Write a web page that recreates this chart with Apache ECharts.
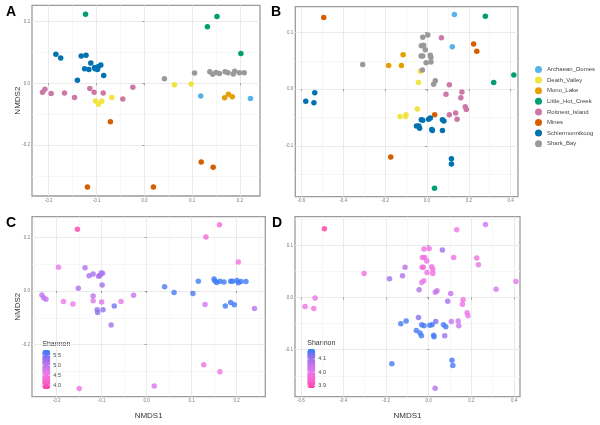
<!DOCTYPE html>
<html><head><meta charset="utf-8">
<script src="https://cdn.jsdelivr.net/npm/echarts@6.0.0/dist/echarts.min.js"></script>
<style>html,body{margin:0;padding:0;background:#fff}#c{width:600px;height:425px}</style>
</head><body><div id="c"></div>
<script>
// ---------- DATA ----------
const groups = ['Archaean_Domes','Death_Valley','Mono_Lake','Little_Hot_Creek','Rottnest_Island','Mines','Schiermonnikoog','Shark_Bay'];
const groupColors = ['#56B4E9','#F0E442','#E69F00','#009E73','#CC79A7','#D55E00','#0072B2','#999999'];

// Panel A (NMDS1, NMDS2) by group
const A_Archaean_Domes = [[0.118,-0.041],[0.222,-0.049]];
const A_Death_Valley = [[-0.102,-0.057],[-0.096,-0.068],[-0.089,-0.058],[-0.068,-0.046],[0.063,-0.005],[0.098,-0.002]];
const A_Mono_Lake = [[0.168,-0.047],[0.176,-0.035],[0.184,-0.043]];
const A_Little_Hot_Creek = [[-0.123,0.223],[0.152,0.216],[0.132,0.183],[0.202,0.096]];
const A_Rottnest_Island = [[-0.213,-0.029],[-0.208,-0.019],[-0.195,-0.033],[-0.167,-0.031],[-0.146,-0.046],[-0.114,-0.017],[-0.105,-0.029],[-0.086,-0.031],[-0.045,-0.051],[-0.024,-0.013]];
const A_Mines = [[-0.071,-0.124],[-0.119,-0.335],[0.019,-0.335],[0.119,-0.254],[0.144,-0.271]];
const A_Schiermonnikoog = [[-0.185,0.094],[-0.175,0.082],[-0.132,0.088],[-0.122,0.091],[-0.112,0.066],[-0.125,0.047],[-0.116,0.045],[-0.103,0.047],[-0.098,0.045],[-0.104,0.051],[-0.096,0.054],[-0.091,0.059],[-0.085,0.025],[-0.140,0.010]];
const A_Shark_Bay = [[0.042,0.015],[0.105,0.033],[0.137,0.037],[0.143,0.029],[0.150,0.035],[0.157,0.032],[0.169,0.037],[0.175,0.034],[0.186,0.030],[0.189,0.039],[0.199,0.034],[0.209,0.034]];

// Panel B
const B_Archaean_Domes = [[0.131,0.132],[0.121,0.075]];
const B_Death_Valley = [[-0.031,0.032],[-0.041,0.012],[-0.046,-0.035],[-0.129,-0.048],[-0.100,-0.045],[-0.102,-0.048]];
const B_Mono_Lake = [[-0.114,0.061],[-0.183,0.042],[-0.122,0.042]];
const B_Little_Hot_Creek = [[0.279,0.129],[0.319,0.012],[0.415,0.025],[0.036,-0.175]];
const B_Rottnest_Island = [[0.069,0.091],[0.107,0.008],[0.091,-0.009],[0.167,-0.005],[0.162,-0.015],[0.183,-0.031],[0.188,-0.036],[0.137,-0.042],[0.107,-0.045],[0.144,-0.053]];
const B_Mines = [[-0.493,0.127],[0.223,0.080],[0.238,0.067],[0.037,-0.045],[-0.173,-0.120]];
const B_Schiermonnikoog = [[-0.579,-0.021],[-0.536,-0.006],[-0.540,-0.024],[-0.050,-0.065],[-0.039,-0.065],[-0.035,-0.069],[-0.027,-0.054],[-0.020,-0.055],[0.008,-0.053],[0.016,-0.051],[0.074,-0.054],[0.081,-0.056],[0.023,-0.071],[0.026,-0.073],[0.074,-0.073],[0.117,-0.123],[0.117,-0.132]];
const B_Shark_Bay = [[-0.307,0.044],[-0.020,0.092],[0.004,0.096],[-0.027,0.077],[-0.016,0.078],[-0.008,0.070],[-0.028,0.059],[-0.020,0.059],[0.016,0.060],[0.019,0.056],[-0.004,0.047],[0.019,0.048],[-0.022,0.034],[0.040,0.015],[0.032,0.009]];

// Panel C: [NMDS1, NMDS2, Shannon]
const C_points = [
 [-0.154,0.230,3.85],[0.162,0.247,4.35],[0.132,0.201,4.35],[0.204,0.108,4.45],[-0.196,0.089,4.6],
 [-0.137,0.087,5.15],[-0.128,0.057,5.2],[-0.119,0.063,5.2],[-0.107,0.055,5.2],[-0.104,0.058,5.2],
 [-0.101,0.067,5.15],[-0.098,0.066,5.15],[-0.099,0.022,5.25],[-0.152,0.010,5.15],
 [-0.233,-0.015,4.95],[-0.229,-0.025,4.95],[-0.224,-0.031,4.95],[-0.185,-0.039,4.6],[-0.164,-0.048,4.6],
 [-0.119,-0.019,5.0],[-0.119,-0.036,4.7],[-0.100,-0.041,4.7],[-0.110,-0.070,5.4],[-0.109,-0.080,5.4],
 [-0.097,-0.070,5.4],[-0.072,-0.056,5.5],[-0.079,-0.127,5.2],[-0.057,-0.039,4.6],[-0.029,-0.016,4.95],
 [0.040,0.016,5.65],[0.061,-0.006,5.65],[0.103,-0.009,5.65],[0.115,0.036,5.7],
 [0.150,0.045,5.7],[0.152,0.037,5.7],[0.156,0.032,5.7],[0.163,0.036,5.7],[0.172,0.034,5.7],
 [0.187,0.036,5.7],[0.191,0.036,5.7],[0.201,0.039,5.7],[0.204,0.031,5.7],[0.210,0.035,5.7],[0.221,0.035,5.7],
 [0.130,-0.050,4.8],[0.175,-0.056,5.7],[0.187,-0.043,5.7],[0.195,-0.051,5.7],[0.240,-0.065,5.0],
 [0.127,-0.275,4.5],[0.163,-0.301,4.5],[-0.150,-0.363,4.45],[0.017,-0.354,4.75]
];

// Panel D: [NMDS1, NMDS2, Shannon]
const D_points = [
 [-0.489,0.132,3.88],[0.131,0.130,3.99],[0.266,0.140,4.04],[-0.303,0.046,3.97],[-0.184,0.036,4.1],
 [-0.123,0.042,4.08],[-0.111,0.058,4.06],[-0.045,0.015,4.08],
 [-0.022,0.093,3.98],[0.002,0.094,3.98],[-0.030,0.077,3.98],[-0.019,0.077,3.98],[-0.009,0.070,3.98],
 [-0.031,0.058,3.98],[-0.025,0.058,3.98],[0.014,0.059,3.98],[0.019,0.054,3.98],[0.019,0.046,3.98],
 [-0.008,0.048,3.98],[-0.023,0.032,4.0],[-0.033,0.029,4.0],
 [0.064,0.091,4.1],[0.117,0.077,3.98],[0.225,0.076,3.98],[0.233,0.063,4.01],[0.316,0.016,4.03],[0.409,0.031,4.01],
 [0.031,0.010,4.05],[0.039,0.013,4.05],[0.103,0.008,4.05],[0.089,-0.007,4.1],[0.161,-0.004,3.98],
 [0.158,-0.013,3.98],[0.180,-0.029,3.99],[0.184,-0.035,4.0],[0.138,-0.045,4.04],[0.106,-0.046,4.05],
 [0.141,-0.054,4.04],[-0.048,-0.038,4.12],[-0.533,-0.001,3.98],[-0.580,-0.017,3.98],[-0.539,-0.021,3.98],
 [-0.131,-0.050,4.16],[-0.106,-0.045,4.16],[-0.058,-0.063,4.16],[-0.041,-0.068,4.16],[-0.034,-0.073,4.16],
 [-0.033,-0.052,4.16],[-0.022,-0.054,4.16],[0.005,-0.053,4.16],[0.016,-0.052,4.16],[0.033,-0.046,4.13],
 [0.069,-0.052,4.16],[0.080,-0.056,4.16],[0.023,-0.072,4.16],[0.025,-0.075,4.16],[0.075,-0.073,4.1],
 [-0.173,-0.127,4.16],[0.109,-0.120,4.16],[0.113,-0.130,4.16],[0.030,-0.174,4.08]
];

// axis domains and ticks
const A_xRange = [-0.235, 0.242], A_yRange = [-0.364, 0.252];
const B_xRange = [-0.629, 0.435], B_yRange = [-0.190, 0.146];
const C_xRange = [-0.255, 0.264], C_yRange = [-0.394, 0.277];
const D_xRange = [-0.627, 0.428], D_yRange = [-0.190, 0.155];
const A_xTicks = [-0.2,-0.1,0,0.1,0.2], A_yTicks = [-0.2,0,0.2];
const B_xTicks = [-0.6,-0.4,-0.2,0,0.2,0.4], B_yTicks = [-0.1,0,0.1];
const C_xTicks = [-0.2,-0.1,0,0.1,0.2], C_yTicks = [-0.2,0,0.2];
const D_xTicks = [-0.6,-0.4,-0.2,0,0.2,0.4], D_yTicks = [-0.1,0,0.1];
const C_shannonTicks = [5.5,5.0,4.5,4.0], C_shannonRange = [3.8,5.77];
const D_shannonTicks = [4.1,4.0,3.9], D_shannonRange = [3.88,4.175];
const shannonColors = ['#ff3fa3','#f862cf','#ec78ea','#bf74ee','#9470ec','#2a7df8'];

// ---------- CHART ----------
const chart = echarts.init(document.getElementById('c'), null, {renderer:'canvas'});
const FONT = 'Liberation Sans, Arial, Helvetica, sans-serif';
const grids = [
  {left:32, top:5.3, width:228, height:190.7},
  {left:295.3, top:6.7, width:222.7, height:190},
  {left:32, top:216.7, width:233.3, height:180},
  {left:295, top:216.7, width:225, height:180}
].map(g => Object.assign(g, {show:true, borderColor:'#9b9b9b', borderWidth:1.3, backgroundColor:'#fff', containLabel:false}));

function minorsOf(ticks, range){
  const step = ticks[1]-ticks[0];
  const out = [];
  for (let v = ticks[0]-step/2; v <= range[1]+1e-9; v += step) if (v >= range[0]) out.push(+v.toFixed(4));
  return out;
}
const xAxes = [], yAxes = [];
function addAxes(gi, xr, yr, xt, yt, xName, yName){
  const common = (range, ticks, isX, name) => ({
    type:'value', gridIndex:gi, min:range[0], max:range[1],
    position: isX ? 'bottom' : 'left',
    axisLine:{show:false},
    axisTick:{show:true, length:2, lineStyle:{color:'#888', width:0.8}, customValues:ticks},
    axisLabel:{show:true, fontSize:4.5, color:'#777', margin:2, fontFamily:FONT, customValues:ticks, formatter:v=>v.toFixed(1)},
    splitLine:{show:true, lineStyle:{color:'#e6e6e6', width:0.8}},
    minorSplitLine:{show:false},
    name: name || '', nameLocation:'middle', nameGap: isX ? 15 : 10, nameRotate: isX ? 0 : 90,
    nameMoveOverlap:false,
    nameTextStyle:{fontSize:8, color:'#333', fontFamily:FONT}
  });
  const minor = (range, ticks, isX) => ({
    type:'value', gridIndex:gi, min:range[0], max:range[1], position: isX ? 'bottom':'left',
    axisLine:{show:false}, axisLabel:{show:false},
    axisTick:{show:false, customValues:minorsOf(ticks, range)},
    splitLine:{show:true, lineStyle:{color:'#f2f2f2', width:0.6}}
  });
  xAxes.push(common(xr, xt, true, xName)); const xi = xAxes.length-1;
  xAxes.push(minor(xr, xt, true));
  yAxes.push(common(yr, yt, false, yName)); const yi = yAxes.length-1;
  yAxes.push(minor(yr, yt, false));
  return [xi, yi];
}
const axA = addAxes(0, A_xRange, A_yRange, A_xTicks, A_yTicks, '', 'NMDS2');
const axB = addAxes(1, B_xRange, B_yRange, B_xTicks, B_yTicks, '', '');
const axC = addAxes(2, C_xRange, C_yRange, C_xTicks, C_yTicks, 'NMDS1', 'NMDS2');
const axD = addAxes(3, D_xRange, D_yRange, D_xTicks, D_yTicks, 'NMDS1', '');

const A_sets = [A_Archaean_Domes,A_Death_Valley,A_Mono_Lake,A_Little_Hot_Creek,A_Rottnest_Island,A_Mines,A_Schiermonnikoog,A_Shark_Bay];
const B_sets = [B_Archaean_Domes,B_Death_Valley,B_Mono_Lake,B_Little_Hot_Creek,B_Rottnest_Island,B_Mines,B_Schiermonnikoog,B_Shark_Bay];
const series = [];
const SYM = 5.5;
[[A_sets, axA],[B_sets, axB]].forEach(([sets, ax]) => {
  sets.forEach((d, i) => series.push({
    type:'scatter', name:groups[i], xAxisIndex:ax[0], yAxisIndex:ax[1], data:d,
    symbolSize:SYM, itemStyle:{color:groupColors[i], opacity:1}, emphasis:{disabled:true}, silent:true
  }));
});
const cIndex = series.length;
series.push({type:'scatter', name:'C', xAxisIndex:axC[0], yAxisIndex:axC[1], data:C_points, symbolSize:SYM, emphasis:{disabled:true}, silent:true});
const dIndex = series.length;
series.push({type:'scatter', name:'D', xAxisIndex:axD[0], yAxisIndex:axD[1], data:D_points, symbolSize:SYM, emphasis:{disabled:true}, silent:true});

const cbars = [
  {range:C_shannonRange, ticks:C_shannonTicks, left:42.3, top:350, si:cIndex, dec:1},
  {range:D_shannonRange, ticks:D_shannonTicks, left:307.3, top:349, si:dIndex, dec:1}
];
const CB_W = 8, CB_H = 39;
const visualMaps = cbars.map(cb => ({
  type:'continuous', min:cb.range[0], max:cb.range[1], seriesIndex:cb.si, dimension:2,
  inRange:{color:shannonColors}, itemWidth:CB_W, itemHeight:CB_H, left:cb.left, top:cb.top,
  padding:0, calculable:false, text:null, showLabel:false, hoverLink:false, realtime:false
}));
const graphics = [];
cbars.forEach(cb => {
  graphics.push({type:'text', left:cb.left, top:cb.top-9, style:{text:'Shannon', fontSize:7, fill:'#333', fontFamily:FONT}});
  cb.ticks.forEach(t => {
    const y = cb.top + (cb.range[1]-t)/(cb.range[1]-cb.range[0])*CB_H;
    graphics.push({type:'text', x:cb.left+CB_W+3, y:y, style:{text:t.toFixed(cb.dec), fontSize:5.5, fill:'#444', fontFamily:FONT, textVerticalAlign:'middle'}});
    graphics.push({type:'line', shape:{x1:cb.left, y1:y, x2:cb.left+1.6, y2:y}, style:{stroke:'#fff', lineWidth:0.7}, z:100});
    graphics.push({type:'line', shape:{x1:cb.left+CB_W-1.6, y1:y, x2:cb.left+CB_W, y2:y}, style:{stroke:'#fff', lineWidth:0.7}, z:100});
  });
});
[['A',6,5],['B',271,5],['C',6,216],['D',272,216]].forEach(([t,x,y]) => graphics.push({type:'text', left:x, top:y, style:{text:t, fontSize:14, fontWeight:'bold', fill:'#000', fontFamily:FONT}, z:100}));

chart.setOption({
  animation:false,
  backgroundColor:'#fff',
  grid:grids, xAxis:xAxes, yAxis:yAxes, series:series,
  visualMap:visualMaps,
  legend:{data:groups, orient:'vertical', left:535, top:66, icon:'circle', itemWidth:7, itemHeight:7, itemGap:3.6, padding:0,
    textStyle:{fontSize:6, color:'#444', fontFamily:FONT}, selectedMode:false},
  graphic:graphics
});
</script></body></html>
